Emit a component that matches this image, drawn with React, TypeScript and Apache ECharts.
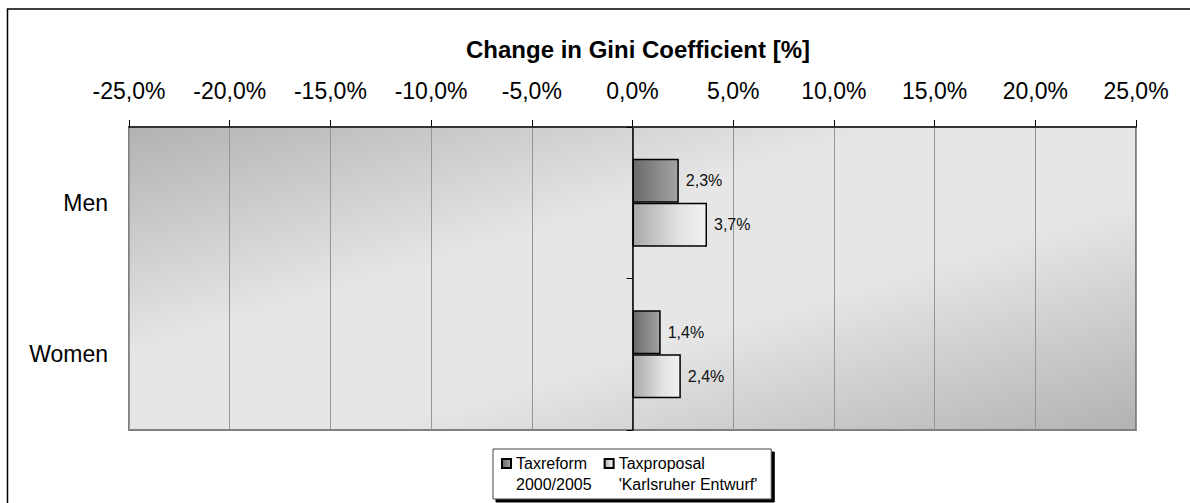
import React, { useEffect, useRef } from "react";
import * as echarts from "echarts";

const categories: string[] = ["Men", "Women"];
const seriesNames: string[] = ["Taxreform\n2000/2005", "Taxproposal\n'Karlsruher Entwurf'"];
const taxreform: number[] = [2.3, 1.4];
const taxproposal: number[] = [3.7, 2.4];
const titleText = "Change in Gini Coefficient [%]";
const xMin = -25;
const xMax = 25;
const xStep = 5;

const FONT = "Arial, 'Liberation Sans', sans-serif";
const fmtPct = (v: number) => v.toFixed(1).replace(".", ",") + "%";

export default function App() {
  const ref = useRef<HTMLDivElement>(null);
  useEffect(() => {
    if (!ref.current) return;
    const chart = echarts.init(ref.current, undefined, { renderer: "svg" });
    const bg = new echarts.graphic.LinearGradient(0, 0, 1, 1, [
      { offset: 0, color: "#b2b2b2" },
      { offset: 0.38, color: "#e6e6e6" },
      { offset: 0.62, color: "#e6e6e6" },
      { offset: 1, color: "#b2b2b2" },
    ]);
    const darkFill = new echarts.graphic.LinearGradient(0, 0, 1, 0, [
      { offset: 0, color: "#6a6a6a" },
      { offset: 1, color: "#a4a4a4" },
    ]);
    const lightFill = new echarts.graphic.LinearGradient(0, 0, 1, 0, [
      { offset: 0, color: "#a8a8a8" },
      { offset: 0.6, color: "#e0e0e0" },
      { offset: 1, color: "#f2f2f2" },
    ]);
    const labelCfg = {
      show: true,
      position: "right",
      distance: 7,
      fontSize: 16,
      fontFamily: FONT,
      color: "#111",
      formatter: (p: any) => fmtPct(p.value),
    };
    chart.setOption({
      animation: false,
      backgroundColor: "#ffffff",
      title: {
        text: titleText,
        left: 633,
        top: 32,
        textAlign: "center",
        textStyle: { fontFamily: FONT, fontSize: 24, fontWeight: "bold", color: "#000" },
      },
      graphic: [
        {
          type: "rect",
          shape: { x: 7.5, y: 9, width: 1300, height: 700 },
          style: { fill: "none", stroke: "#000", lineWidth: 1.5 },
          silent: true,
          z: -1,
        },
      ],
      legend: {
        left: 493,
        top: 449,
        orient: "horizontal",
        itemWidth: 9,
        itemHeight: 30,
        itemGap: 12,
        padding: [4, 14, 4, 8],
        backgroundColor: "#ffffff",
        borderColor: "#444",
        borderWidth: 1,
        shadowColor: "#000",
        shadowBlur: 0,
        shadowOffsetX: 3,
        shadowOffsetY: 3,
        icon: "path://M0,0L10,0L10,10L0,10ZM0,33.333",
        textStyle: {
          fontFamily: FONT,
          fontSize: 16,
          color: "#000",
          lineHeight: 21,
        },
        data: seriesNames,
      },
      grid: {
        left: 129,
        right: 54,
        top: 127,
        bottom: 73,
        show: true,
        backgroundColor: bg,
        borderColor: "#808080",
        borderWidth: 2,
      },
      xAxis: {
        type: "value",
        position: "top",
        min: xMin,
        max: xMax,
        interval: xStep,
        axisLine: { show: true, lineStyle: { color: "#333", width: 2 } },
        axisTick: { show: true, length: 7, lineStyle: { color: "#000", width: 1 } },
        axisLabel: {
          margin: 25,
          fontFamily: FONT,
          fontSize: 23,
          color: "#000",
          formatter: (v: number) => fmtPct(v),
        },
        splitLine: { show: true, lineStyle: { color: "#959595", width: 1 } },
      },
      yAxis: [
        {
          type: "category",
          data: categories,
          inverse: true,
          position: "left",
          axisLine: { show: false, onZero: false },
          axisTick: { show: false },
          axisLabel: { margin: 21, fontFamily: FONT, fontSize: 23, color: "#000" },
          splitLine: { show: false },
        },
        {
          type: "category",
          data: categories,
          inverse: true,
          position: "right",
          axisLine: { show: true, onZero: true, lineStyle: { color: "#000", width: 1.5 } },
          axisTick: { show: true, inside: true, length: 6, lineStyle: { color: "#000", width: 1 } },
          axisLabel: { show: false },
          splitLine: { show: false },
        },
      ],
      series: [
        {
          name: seriesNames[0],
          type: "bar",
          data: taxreform,
          barWidth: 44,
          barGap: "0%",
          itemStyle: { color: darkFill, borderColor: "#000", borderWidth: 1.5 },
          label: labelCfg,
        },
        {
          name: seriesNames[1],
          type: "bar",
          data: taxproposal,
          barWidth: 44,
          barGap: "0%",
          itemStyle: { color: lightFill, borderColor: "#000", borderWidth: 1.5 },
          label: labelCfg,
        },
      ],
    });
    return () => chart.dispose();
  }, []);
  return (
    <div
      ref={ref}
      style={{ position: "absolute", left: 0, top: 0, width: 1190, height: 503 }}
    />
  );
}
